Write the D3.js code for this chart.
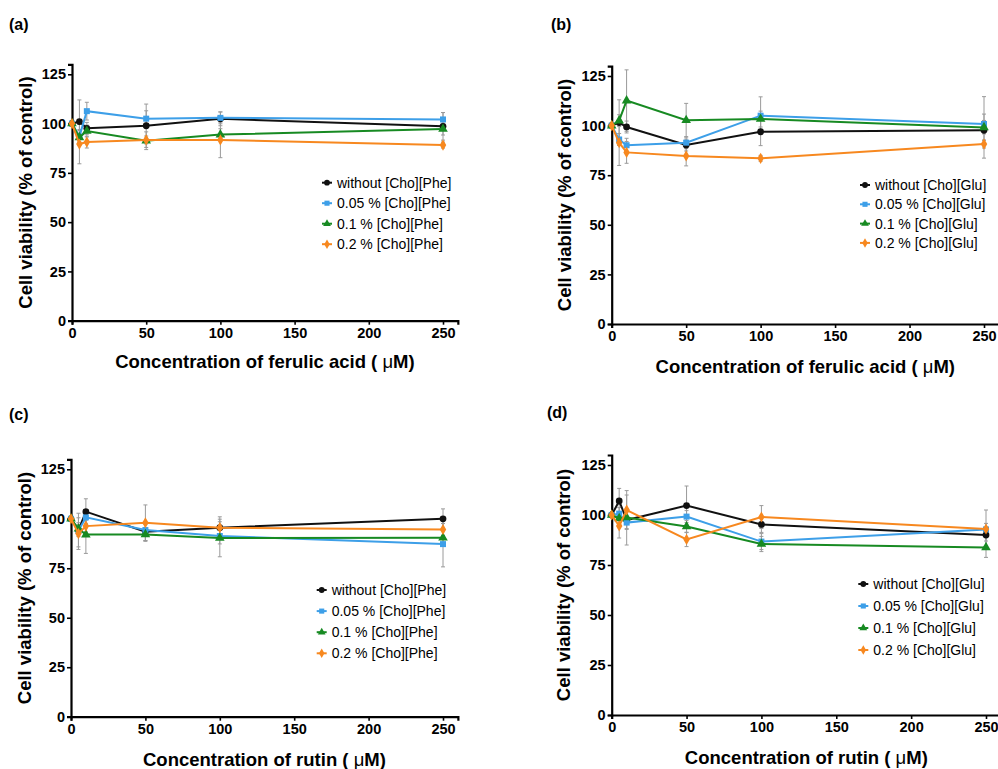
<!DOCTYPE html>
<html>
<head>
<meta charset="utf-8">
<script src="https://cdn.jsdelivr.net/npm/d3@7"></script>
<style>
  body { margin: 0; background: #fff; }
  svg { display: block; font-family: "Liberation Sans", Arial, sans-serif; }
</style>
</head>
<body>
<svg id="chart" width="998" height="769"></svg>
<script>
// x values (µM) shared by every panel
const concentrations = [0, 5, 10, 50, 100, 250];
const xTicks = [0, 50, 100, 150, 200, 250];
const yTicks = [0, 25, 50, 75, 100, 125];
const seriesPrefix = ['without', '0.05 %', '0.1 %', '0.2 %'];
const panelLetters = ['(a)', '(b)', '(c)', '(d)'];
const ionicLiquids = ['[Cho][Phe]', '[Cho][Glu]', '[Cho][Phe]', '[Cho][Glu]'];
const xTitles = ['Concentration of ferulic acid', 'Concentration of ferulic acid',
  'Concentration of rutin', 'Concentration of rutin'];

// means, one row per series (without, 0.05 %, 0.1 %, 0.2 %)
const meansA = [
  [100, 101, 97.6, 98.9, 102.4, 98.6],
  [100, 93.5, 106.3, 102.5, 102.9, 102.1],
  [100, 93, 96.2, 91.3, 94.4, 97.2],
  [100, 89.6, 90.6, 91.7, 91.7, 89.1]
];
const errorsA = [
  [0, 11, 3, 11, 3.5, 7],
  [0, 3, 4.5, 4, 3, 3.5],
  [0, 4, 3, 4.5, 3, 3],
  [0, 10, 3, 2, 9, 1.5]
];
const meansB = [
  [100, 101.5, 99.3, 90.2, 96.9, 97.6],
  [100, 93, 90.1, 91.4, 105, 100.8],
  [100, 102.5, 112.6, 102.7, 103.3, 99.1],
  [100, 91.4, 86.5, 84.7, 83.5, 90.7]
];
const errorsB = [
  [0, 11.5, 3, 3, 7, 5],
  [0, 3, 3.5, 3, 9.5, 5],
  [0, 3, 15.5, 8.5, 4, 15.5],
  [0, 11.5, 5.5, 5, 1.5, 2]
];
const meansC = [
  [100, 94.3, 103.6, 93.5, 95.5, 100],
  [100, 94, 100.7, 94.3, 91.3, 87.2],
  [100, 95, 92, 92.1, 90.3, 90.4],
  [100, 92.5, 96.3, 98, 95.5, 94.6]
];
const errorsC = [
  [0, 8.5, 6.5, 4.5, 3, 5],
  [0, 3, 3, 3, 4, 11.5],
  [0, 3, 9.5, 3.5, 9.5, 4],
  [0, 8, 3, 9, 5.5, 3]
];
const meansD = [
  [100, 107, 97.5, 104.7, 95.3, 90],
  [100, 100.7, 96.2, 99.2, 86.7, 92.8],
  [100, 98.3, 98.7, 94.2, 85.5, 83.8],
  [100, 94.5, 102.5, 87.8, 99, 93]
];
const errorsD = [
  [0, 6.3, 12.5, 9.8, 4, 3],
  [0, 3, 3, 3, 4, 3],
  [0, 3, 3, 3, 3.8, 5],
  [0, 6, 9.7, 3.6, 5.7, 9.5]
];

const allMeans = [meansA, meansB, meansC, meansD];
const allErrors = [errorsA, errorsB, errorsC, errorsD];

const colors = ['#111111', '#3d9fe8', '#178a22', '#f7881f'];
const symbols = [d3.symbolCircle, d3.symbolSquare, d3.symbolTriangle, d3.symbolDiamond];

// pixel layout of each panel
const layouts = [
  { x0: 72, x250: 443, y0: 320.7, y125: 74.3, lab: [9, 30], yt: 26, leg: [327, 182.7, 20.5], xtGap: 47 },
  { x0: 611.7, x250: 984, y0: 324, y125: 76, lab: [551, 30], yt: 565, leg: [865, 185, 19.3], xtGap: 48.5 },
  { x0: 71, x250: 443, y0: 716.7, y125: 469.3, lab: [9, 420], yt: 25, leg: [321.7, 590, 21.1], xtGap: 49.5 },
  { x0: 611.7, x250: 986, y0: 715, y125: 465, lab: [547, 418], yt: 563.3, leg: [863.3, 584, 22], xtGap: 48.5 }
];

const svg = d3.select('#chart');

layouts.forEach((L, p) => {
  const g = svg.append('g');
  const xPer = (L.x250 - L.x0) / 250;
  const yPer = (L.y0 - L.y125) / 125;
  const x = d3.scaleLinear().domain([0, 260]).range([L.x0, L.x0 + 260 * xPer]);
  const y = d3.scaleLinear().domain([0, 130]).range([L.y0, L.y0 - 130 * yPer]);

  // panel letter
  g.append('text')
    .attr('x', L.lab[0]).attr('y', L.lab[1])
    .style('font-size', '16px').style('font-weight', 'bold')
    .text(panelLetters[p]);

  // axes
  const xAxis = g.append('g')
    .attr('transform', `translate(0,${L.y0})`)
    .call(d3.axisBottom(x).tickValues(xTicks).tickSizeOuter(0).tickSize(4).tickPadding(3));
  const yAxis = g.append('g')
    .attr('transform', `translate(${L.x0},0)`)
    .call(d3.axisLeft(y).tickValues(yTicks).tickSizeOuter(0).tickSize(4).tickPadding(2));
  [xAxis, yAxis].forEach(a => {
    a.select('.domain').attr('stroke', '#000').attr('stroke-width', 2.2);
    a.selectAll('.tick line').attr('stroke', '#000').attr('stroke-width', 1.6);
    a.selectAll('.tick text')
      .style('font-size', '14.5px').style('font-weight', 'bold')
      .style('font-family', '"Liberation Sans", Arial, sans-serif')
      .attr('fill', '#000');
  });

  // axis titles
  const xt = g.append('text')
    .attr('x', (x.range()[0] + x.range()[1]) / 2)
    .attr('y', L.y0 + L.xtGap)
    .attr('text-anchor', 'middle')
    .style('font-size', '18.5px').style('font-weight', 'bold')
    .text(xTitles[p] + ' (');
  xt.append('tspan').style('font-weight', 'normal').text('\u00a0μ');
  xt.append('tspan').text('M)');

  g.append('text')
    .attr('transform', `translate(${L.yt},${(y.range()[0] + y.range()[1]) / 2}) rotate(-90)`)
    .attr('dy', '0.35em')
    .attr('text-anchor', 'middle')
    .style('font-size', '18.5px').style('font-weight', 'bold')
    .text('Cell viability (% of control)');

  const means = allMeans[p];
  const errs = allErrors[p];

  // error bars
  means.forEach((row, s) => {
    const pts = row.map((v, i) => ({ c: concentrations[i], v, e: errs[s][i] })).filter(d => d.e > 0);
    const eb = g.append('g').attr('stroke', '#9a9a9a').attr('stroke-width', 1);
    eb.selectAll('line.v').data(pts).enter().append('line')
      .attr('x1', d => x(d.c)).attr('x2', d => x(d.c))
      .attr('y1', d => y(d.v - d.e)).attr('y2', d => y(d.v + d.e));
    eb.selectAll('line.t').data(pts.flatMap(d => [d.v - d.e, d.v + d.e].map(v => ({ c: d.c, v })))).enter().append('line')
      .attr('x1', d => x(d.c) - 2).attr('x2', d => x(d.c) + 2)
      .attr('y1', d => y(d.v)).attr('y2', d => y(d.v));
  });

  // lines and markers
  const line = d3.line().x((d, i) => x(concentrations[i])).y(d => y(d));
  means.forEach((row, s) => {
    g.append('path')
      .attr('d', line(row))
      .attr('fill', 'none')
      .attr('stroke', colors[s])
      .attr('stroke-width', 2);
    g.selectAll(null).data(row).enter().append('path')
      .attr('transform', (d, i) => `translate(${x(concentrations[i])},${y(d)})`)
      .attr('d', d3.symbol().type(symbols[s]).size(s === 2 ? 40 : 36))
      .attr('fill', colors[s]);
  });

  // legend
  const leg = g.append('g');
  seriesPrefix.forEach((pre, s) => {
    const cy = L.leg[1] + s * L.leg[2];
    leg.append('line')
      .attr('x1', L.leg[0] - 5).attr('x2', L.leg[0] + 5)
      .attr('y1', cy).attr('y2', cy)
      .attr('stroke', colors[s]).attr('stroke-width', 2);
    leg.append('path')
      .attr('transform', `translate(${L.leg[0]},${cy})`)
      .attr('d', d3.symbol().type(symbols[s]).size(26))
      .attr('fill', colors[s]);
    leg.append('text')
      .attr('x', L.leg[0] + 10).attr('y', cy)
      .attr('dy', '0.35em')
      .style('font-size', '14px')
      .text(`${pre} ${ionicLiquids[p]}`);
  });
});
</script>
</body>
</html>
